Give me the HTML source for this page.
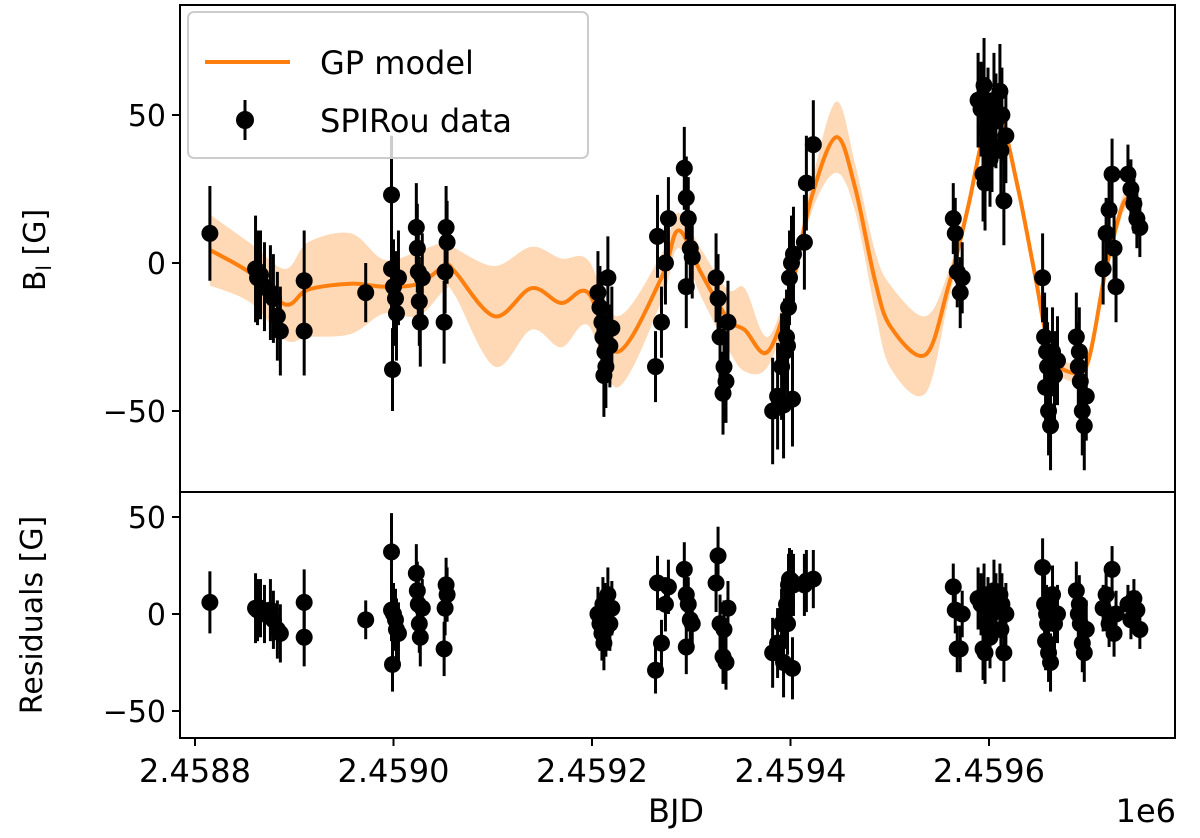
<!DOCTYPE html>
<html><head><meta charset="utf-8"><style>
body{margin:0;background:#fff;}
svg{display:block;font-family:"DejaVu Sans","Liberation Sans",sans-serif;}
</style></head><body>
<svg id="chart" width="1200" height="838" viewBox="0 0 1200 838">
<g id="top-band"></g>
<g id="top-line"></g>
<g id="top-data"></g>
<g id="res-data"></g>
<g id="axes"></g>
<g>
<rect x="188" y="12" width="400" height="146" rx="6" fill="#fff" fill-opacity="0.8" stroke="#ccc" stroke-width="2"/>
<line x1="205" y1="62" x2="290" y2="62" stroke="#ff7f0e" stroke-width="4"/>
<text x="320" y="74" font-size="32">GP model</text>
<line x1="245" y1="100" x2="245" y2="140" stroke="#000" stroke-width="3"/>
<circle cx="245" cy="120" r="9" fill="#000"/>
<text x="320" y="132" font-size="32">SPIRou data</text>
</g>
<text transform="translate(45,250) rotate(-90)" text-anchor="middle" font-size="30">B<tspan font-size="20" dy="6">l</tspan><tspan dy="-6"> [G]</tspan></text>
<text transform="translate(42,615) rotate(-90)" text-anchor="middle" font-size="30">Residuals [G]</text>
<text x="676" y="822" text-anchor="middle" font-size="32">BJD</text>
<text x="1176" y="822" text-anchor="end" font-size="32">1e6</text>
</svg>
<script>
// days relative to 2458800
const modelDays=[15,56,91,114,157,191,225,252,262,302,339,369,396,426,470,487,510,537,554,577,601,621,646,665,685,701,736,759,779,796,812,829,846,862,883,900,917,933,940];
const modelMean=[4.4,-3.4,-14,-9,-7,-8,-7,-1,-3,-18,-8.5,-13.5,-10,-30,-5,11,-3.4,-19,-22.6,-30,-8,22,42.5,25.6,-5.7,-21.6,-31,-8,19,45,48,25.6,-3.4,-30,-37,-33,-3.4,18,22];
const modelSigma=[12,10,12,16,17,9,11,8,8,17,14,15,11,12,8,6,8,10,14,5,5,5,12,8,10,14,13,5,3,3,3,3,3,3,3,3,3,3,3];
const dataDays=[15,61,63,66,70,76,79,83,86,110,110,
172,198,198,200,202,199,203,205,223,224,225,226,227,229,253,254,252,251,
406,408,410,411,413,414,412,416,418,420,
464,466,470,474,477,493,495,497,499,495,501,
525,527,529,533,535,532,537,
582,587,591,594,596,598,599,601,603,593,597,602,
614,616,623,
764,766,768,771,773,
789,792,795,797,799,801,794,796,803,805,807,
811,813,815,812,817,
854,856,858,859,857,860,862,864,866,869,
888,890,892,894,896,898,891,
915,918,921,924,926,928,
940,943,946,949,952];
const dataVals=[10,-2,-5,-4,-8,-10,-12,-18,-23,-6,-23,
-10,23,-2,-8,-12,-36,-17,-5,12,5,-3,-13,-20,-5,12,7,-3,-20,
-10,-15,-20,-25,-30,-35,-38,-5,-28,-22,
-35,9,-20,0,15,32,22,15,5,-8,2,
-5,-12,-25,-35,-40,-44,-20,
-50,-45,-35,-30,-25,-15,-5,0,3,-48,-28,-46,
7,27,40,
15,10,-3,-10,-5,
55,52,60,45,50,35,30,27,40,55,48,
58,50,21,38,43,
-5,-25,-30,-35,-42,-50,-55,-30,-38,-33,
-25,-35,-40,-50,-55,-45,-30,
-2,10,18,30,5,-8,
30,25,20,15,12];
const resVals=[6,3,2,3,0,2,-3,-8,-10,6,-12,
-3,32,2,0,-3,-26,-8,-10,21,12,5,-5,-12,3,15,10,3,-18,
0,-5,-10,5,2,-8,-15,10,-5,3,
-29,16,-15,5,14,23,10,5,-3,-17,-5,
16,30,-5,-8,-25,-22,3,
-20,-15,-5,0,5,15,18,17,15,-25,-5,-28,
15,17,18,
14,2,-18,-18,0,
8,5,10,-5,3,-12,-18,-20,0,12,5,
10,5,-20,-8,0,
24,5,0,-5,-14,-20,-25,10,-5,0,
12,0,-5,-15,-20,-8,5,
3,10,-5,23,-10,0,
5,-3,8,2,-8];
const errVals=[16,18,16,15,15,16,15,15,15,17,15,
10,20,16,16,16,14,16,16,15,15,15,15,15,15,14,14,14,14,
14,14,14,14,14,14,14,14,14,14,
12,14,12,14,14,14,14,14,12,14,14,
15,15,15,15,14,14,14,
18,18,18,18,16,16,16,16,16,18,16,16,
16,16,15,
12,12,12,12,12,
16,16,16,16,16,16,16,16,16,16,16,
16,16,15,16,16,
15,15,15,15,15,15,15,15,15,15,
15,15,15,15,15,15,15,
12,12,12,12,12,12,
10,10,10,10,10];
const xTickVals=[0,200,400,600,800];
const xTickLabels=["2.4588","2.4590","2.4592","2.4594","2.4596"];
const yTopTicks=[50,0,-50];
const yResTicks=[50,0,-50];

const NS="http://www.w3.org/2000/svg";
const L=180,R=1175,T=5,MID=492,B=738;
const xs=d=>195+d*0.9925;
const yTop=v=>263-v*2.96;
const yRes=v=>614-v*1.94;
function mk(tag,attrs,parent){const e=document.createElementNS(NS,tag);for(const k in attrs)e.setAttribute(k,attrs[k]);parent.appendChild(e);return e;}
function segs(pts){let d="";for(let i=0;i<pts.length-1;i++){const p0=pts[Math.max(0,i-1)],p1=pts[i],p2=pts[i+1],p3=pts[Math.min(pts.length-1,i+2)];const c1x=p1[0]+(p2[0]-p0[0])/6,c1y=p1[1]+(p2[1]-p0[1])/6,c2x=p2[0]-(p3[0]-p1[0])/6,c2y=p2[1]-(p3[1]-p1[1])/6;d+=" C"+c1x.toFixed(2)+" "+c1y.toFixed(2)+" "+c2x.toFixed(2)+" "+c2y.toFixed(2)+" "+p2[0].toFixed(2)+" "+p2[1].toFixed(2);}return d;}
const up=modelDays.map((d,i)=>[xs(d),yTop(modelMean[i]+modelSigma[i])]);
const lo=modelDays.map((d,i)=>[xs(d),yTop(modelMean[i]-modelSigma[i])]).reverse();
const bandD="M"+up[0][0].toFixed(2)+" "+up[0][1].toFixed(2)+segs(up)+" L"+lo[0][0].toFixed(2)+" "+lo[0][1].toFixed(2)+segs(lo)+" Z";
const band=mk('path',{d:bandD,fill:"#ffd8b6",stroke:"none"},document.getElementById('top-band'));


const mp=modelDays.map((d,i)=>[xs(d),yTop(modelMean[i])]);
const line=mk('path',{d:"M"+mp[0][0].toFixed(2)+" "+mp[0][1].toFixed(2)+segs(mp),fill:"none",stroke:"#ff7f0e","stroke-width":4},document.getElementById('top-line'));


const gT=document.getElementById('top-data'),gR=document.getElementById('res-data');
dataDays.forEach((d,i)=>{
  const x=xs(d);
  const eb=mk('line',{x1:x,x2:x,y1:yTop(dataVals[i]+errVals[i]),y2:yTop(dataVals[i]-errVals[i]),stroke:"#000","stroke-width":3},gT);
  
  
  const c=mk('circle',{cx:x,cy:yTop(dataVals[i]),r:8.5,fill:"#000"},gT);
  
  
  const eb2=mk('line',{x1:x,x2:x,y1:yRes(resVals[i]+errVals[i]),y2:yRes(resVals[i]-errVals[i]),stroke:"#000","stroke-width":3},gR);
  
  
  const c2=mk('circle',{cx:x,cy:yRes(resVals[i]),r:8.5,fill:"#000"},gR);
  
  
});
const ax=document.getElementById('axes');
const f1=mk('rect',{x:L,y:T,width:R-L,height:MID-T,fill:"none",stroke:"#000","stroke-width":2},ax);


const f2=mk('rect',{x:L,y:MID,width:R-L,height:B-MID,fill:"none",stroke:"#000","stroke-width":2},ax);


xTickVals.forEach((v,i)=>{
  const x=xs(v);
  const t=mk('line',{x1:x,x2:x,y1:B,y2:B+8,stroke:"#000","stroke-width":2},ax);
  
  
  const tx=mk('text',{x:x,y:B+44,"text-anchor":"middle","font-size":32},ax);
  tx.textContent=xTickLabels[i];
  
  
});
yTopTicks.forEach(v=>{
  const y=yTop(v);
  const t=mk('line',{x1:L-8,x2:L,y1:y,y2:y,stroke:"#000","stroke-width":2},ax);
  
  
  const tx=mk('text',{x:L-14,y:y+11,"text-anchor":"end","font-size":30},ax);
  tx.textContent=v<0?"\u2212"+(-v):String(v);
  
  
});
yResTicks.forEach(v=>{
  const y=yRes(v);
  const t=mk('line',{x1:L-8,x2:L,y1:y,y2:y,stroke:"#000","stroke-width":2},ax);
  
  
  const tx=mk('text',{x:L-14,y:y+11,"text-anchor":"end","font-size":30},ax);
  tx.textContent=v<0?"\u2212"+(-v):String(v);
  
  
});
</script>
</body></html>
